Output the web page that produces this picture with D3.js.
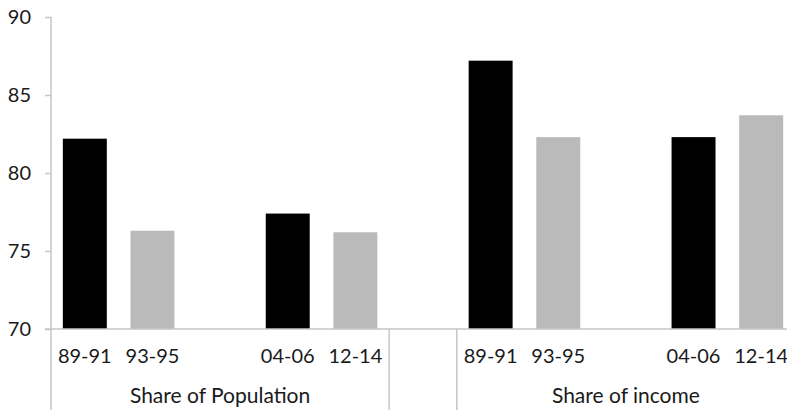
<!DOCTYPE html>
<html>
<head>
<meta charset="utf-8">
<script src="https://cdn.jsdelivr.net/npm/d3@7"></script>
<style>
  html, body { margin: 0; padding: 0; background: #fff; }
  svg { display: block; }
  text { font-family: Lato, "Open Sans", sans-serif; fill: #1a1a1a; }
</style>
</head>
<body>
<svg id="chart" width="787" height="410"></svg>
<script>
const groups = ["Share of Population", "Share of income"];
const periods = ["89-91", "93-95", "04-06", "12-14"];
const populationValues = [82.2, 76.3, 77.4, 76.2];
const incomeValues = [87.2, 82.3, 82.3, 83.7];
const seriesColors = ["#000000", "#bababa", "#000000", "#bababa"];
const yTicks = [70, 75, 80, 85, 90];

const W = 787, H = 410;
const svg = d3.select("#chart");
const mLeft = 51, mRight = 795, mTop = 17, mBottom = 329;

// slot layout: 5 slots per group (gap slot in the middle), plus a spacer slot between groups
const slots = [];
const groupValues = [populationValues, incomeValues];
groups.forEach((g, gi) => {
  if (gi > 0) slots.push({ key: "spacer" + gi, group: null });
  periods.forEach((p, pi) => {
    if (pi === 2) slots.push({ key: g + "-gap", group: g, gap: true });
    slots.push({ key: g + "-" + p, group: g, period: p, value: groupValues[gi][pi], color: seriesColors[pi] });
  });
});

const x = d3.scaleBand().domain(slots.map(s => s.key)).range([mLeft, mRight])
  .paddingInner(0.35).paddingOuter(0.175);
const y = d3.scaleLinear().domain([70, 90]).range([mBottom, mTop]);

const axisColor = "#c6c6c6";

// bars
svg.append("g").selectAll("rect")
  .data(slots.filter(s => s.value != null))
  .join("rect")
  .attr("x", d => x(d.key))
  .attr("width", x.bandwidth())
  .attr("y", d => y(d.value))
  .attr("height", d => y(70) - y(d.value))
  .attr("fill", d => d.color);

// y axis
const yAxis = svg.append("g").attr("transform", `translate(${mLeft},0)`)
  .call(d3.axisLeft(y).tickValues(yTicks).tickSize(6).tickPadding(14).tickFormat(d3.format("d")));
yAxis.select(".domain").remove();
yAxis.selectAll(".tick line").attr("stroke", axisColor).attr("stroke-width", 1.5);
yAxis.selectAll(".tick text").attr("font-size", 20).attr("fill", "#1a1a1a")
  .style("font-family", "Lato, 'Open Sans', sans-serif");

// vertical axis line down to bottom
svg.append("line").attr("x1", mLeft).attr("x2", mLeft).attr("y1", mTop).attr("y2", H)
  .attr("stroke", axisColor).attr("stroke-width", 1.5);

// x axis baseline
svg.append("line").attr("x1", mLeft - 6).attr("x2", W).attr("y1", mBottom).attr("y2", mBottom)
  .attr("stroke", axisColor).attr("stroke-width", 1.5);

// group dividers
const step = x.step();
const dividerXs = [];
groups.forEach((g, gi) => {
  const gs = slots.filter(s => s.group === g);
  const x0 = x(gs[0].key) - x.paddingInner() * step / 2;
  const x1 = x(gs[gs.length - 1].key) + x.bandwidth() + x.paddingInner() * step / 2;
  if (gi > 0) dividerXs.push(x0);
  if (gi < groups.length - 1) dividerXs.push(x1);
  svg.append("text")
    .attr("x", (x0 + Math.min(x1, W + 8)) / 2)
    .attr("y", 403)
    .attr("text-anchor", "middle")
    .attr("font-size", 21)
    .text(g);
});
svg.append("g").selectAll("line").data(dividerXs).join("line")
  .attr("x1", d => d).attr("x2", d => d).attr("y1", mBottom).attr("y2", H)
  .attr("stroke", axisColor).attr("stroke-width", 1.5);

// period labels
svg.append("g").selectAll("text")
  .data(slots.filter(s => s.period))
  .join("text")
  .attr("x", d => x(d.key) + x.bandwidth() / 2)
  .attr("y", 363)
  .attr("text-anchor", "middle")
  .attr("font-size", 20)
  .text(d => d.period);
</script>
</body>
</html>
